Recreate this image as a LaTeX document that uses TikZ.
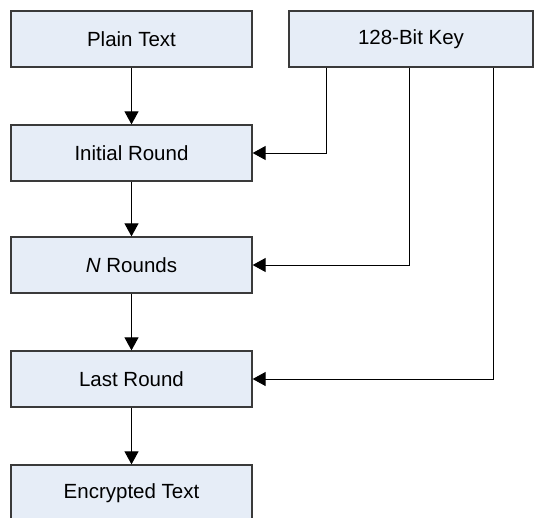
\documentclass[tikz,border=0pt]{standalone}
\usepackage{fontspec}
\setmainfont{Liberation Sans}
\usetikzlibrary{arrows.meta}
\definecolor{boxfill}{HTML}{E6EDF7}
\definecolor{boxline}{HTML}{3A3A3A}
\begin{document}
\begin{tikzpicture}[x=1pt,y=-1pt,
  box/.style={draw=boxline,line width=1.3pt,fill=boxfill,minimum width=241pt,minimum height=56pt,inner sep=0pt,font=\fontsize{20.5}{24}\selectfont},
  keybox/.style={box,minimum width=244pt},
  conn/.style={draw=black,line width=1pt,-{Triangle[length=13pt,width=14pt]}},
  plainline/.style={draw=black,line width=1pt}]
\useasboundingbox (0,0) rectangle (534,517);
\node[box] (pt) at (131.5,39) {Plain Text};
\node[keybox] (key) at (411,39) {128-Bit Key};
\node[box] (ir) at (131.5,153) {Initial Round};
\node[box] (nr) at (131.5,265) {\textit{N} Rounds};
\node[box] (lr) at (131.5,379) {Last Round};
\node[box] (et) at (131.5,493) {Encrypted Text};
\draw[conn] (pt) -- (ir);
\draw[conn] (ir) -- (nr);
\draw[conn] (nr) -- (lr);
\draw[conn] (lr) -- (et);
\draw[conn] (key.south -| 326,0) |- (ir.east);
\draw[conn] (key.south -| 409,0) |- (nr.east);
\draw[conn] (key.south -| 493,0) |- (lr.east);
\end{tikzpicture}
\end{document}
